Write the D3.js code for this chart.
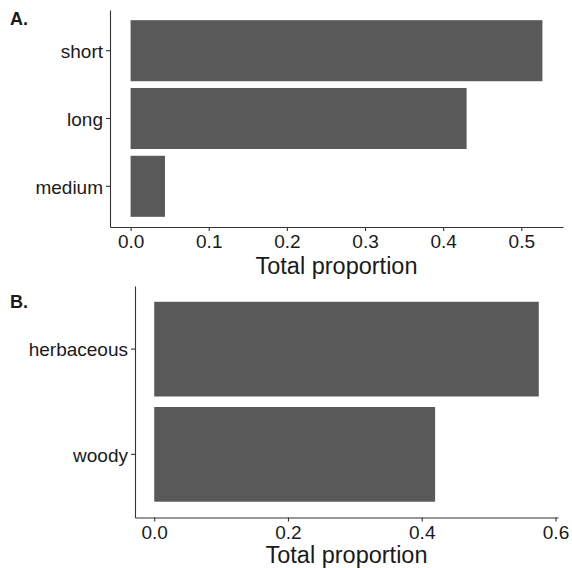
<!DOCTYPE html>
<html>
<head>
<meta charset="utf-8">
<script src="https://cdn.jsdelivr.net/npm/d3@7"></script>
<style>
  body { margin: 0; background: #fff; }
  text { font-family: "Liberation Sans", Arial, sans-serif; fill: #1a1a1a; }
  .axis path, .axis line { stroke: #333; stroke-width: 1.1; }
  .axis text { font-size: 19px; }
  .axis-title { font-size: 23.5px; }
  .tag { font-size: 18px; font-weight: bold; }
  .bar { fill: #595959; }
</style>
</head>
<body>
<div id="chart"></div>
<script>
// panel A: length classes
var catsA = ["short", "long", "medium"];
var valsA = [0.527, 0.43, 0.044];
var ticksA = [0, 0.1, 0.2, 0.3, 0.4, 0.5];

// panel B: growth form
var catsB = ["herbaceous", "woody"];
var valsB = [0.575, 0.42];
var ticksB = [0, 0.2, 0.4, 0.6];

var svg = d3.select("#chart")
  .append("svg")
  .attr("width", 572)
  .attr("height", 568);

//draw one panel: left/right/top/bottom are the plot-area edges
function panel(tag, cats, vals, ticks, box, fmt) {
  var maxV = d3.max(vals);
  var pad = maxV * 0.05; //ggplot style expansion

  var x = d3.scaleLinear()
    .domain([-pad, maxV + pad])
    .range([box.left, box.right]);

  var y = d3.scaleBand()
    .domain(cats)
    .range([box.top, box.bottom])
    .paddingInner(0.1)
    .paddingOuter(0.15);

  var g = svg.append("g");

  //bars
  g.selectAll("rect")
    .data(cats)
    .enter()
    .append("rect")
    .attr("class", "bar")
    .attr("x", x(0))
    .attr("y", function(d) { return y(d); })
    .attr("width", function(d, i) { return x(vals[i]) - x(0); })
    .attr("height", y.bandwidth());

  //x axis
  var xa = g.append("g")
    .attr("class", "axis")
    .attr("transform", "translate(0," + box.bottom + ")")
    .call(d3.axisBottom(x).tickValues(ticks).tickFormat(d3.format(fmt)).tickSizeInner(4).tickSizeOuter(0).tickPadding(4));
  xa.selectAll("text").attr("dy", "0.71em");

  //y axis
  var ya = g.append("g")
    .attr("class", "axis")
    .attr("transform", "translate(" + box.left + ",0)")
    .call(d3.axisLeft(y).tickSizeInner(4).tickSizeOuter(0).tickPadding(3));
  ya.selectAll("text").attr("dy", "0.38em");

  g.selectAll(".axis .domain").attr("stroke", "#333");
  g.selectAll(".axis text").attr("fill", "#1a1a1a");

  //axis title
  g.append("text")
    .attr("class", "axis-title")
    .attr("x", (box.left + box.right) / 2)
    .attr("y", box.titleY)
    .attr("text-anchor", "middle")
    .text("Total proportion");

  //panel tag
  g.append("text")
    .attr("class", "tag")
    .attr("x", 10)
    .attr("y", box.tagY)
    .text(tag);
}

panel("A.", catsA, valsA, ticksA,
  { left: 110, right: 563, top: 10, bottom: 227, titleY: 274, tagY: 25 }, ".1f");
panel("B.", catsB, valsB, ticksB,
  { left: 135, right: 558, top: 286, bottom: 517.5, titleY: 562.5, tagY: 308 }, ".1f");
</script>
</body>
</html>
